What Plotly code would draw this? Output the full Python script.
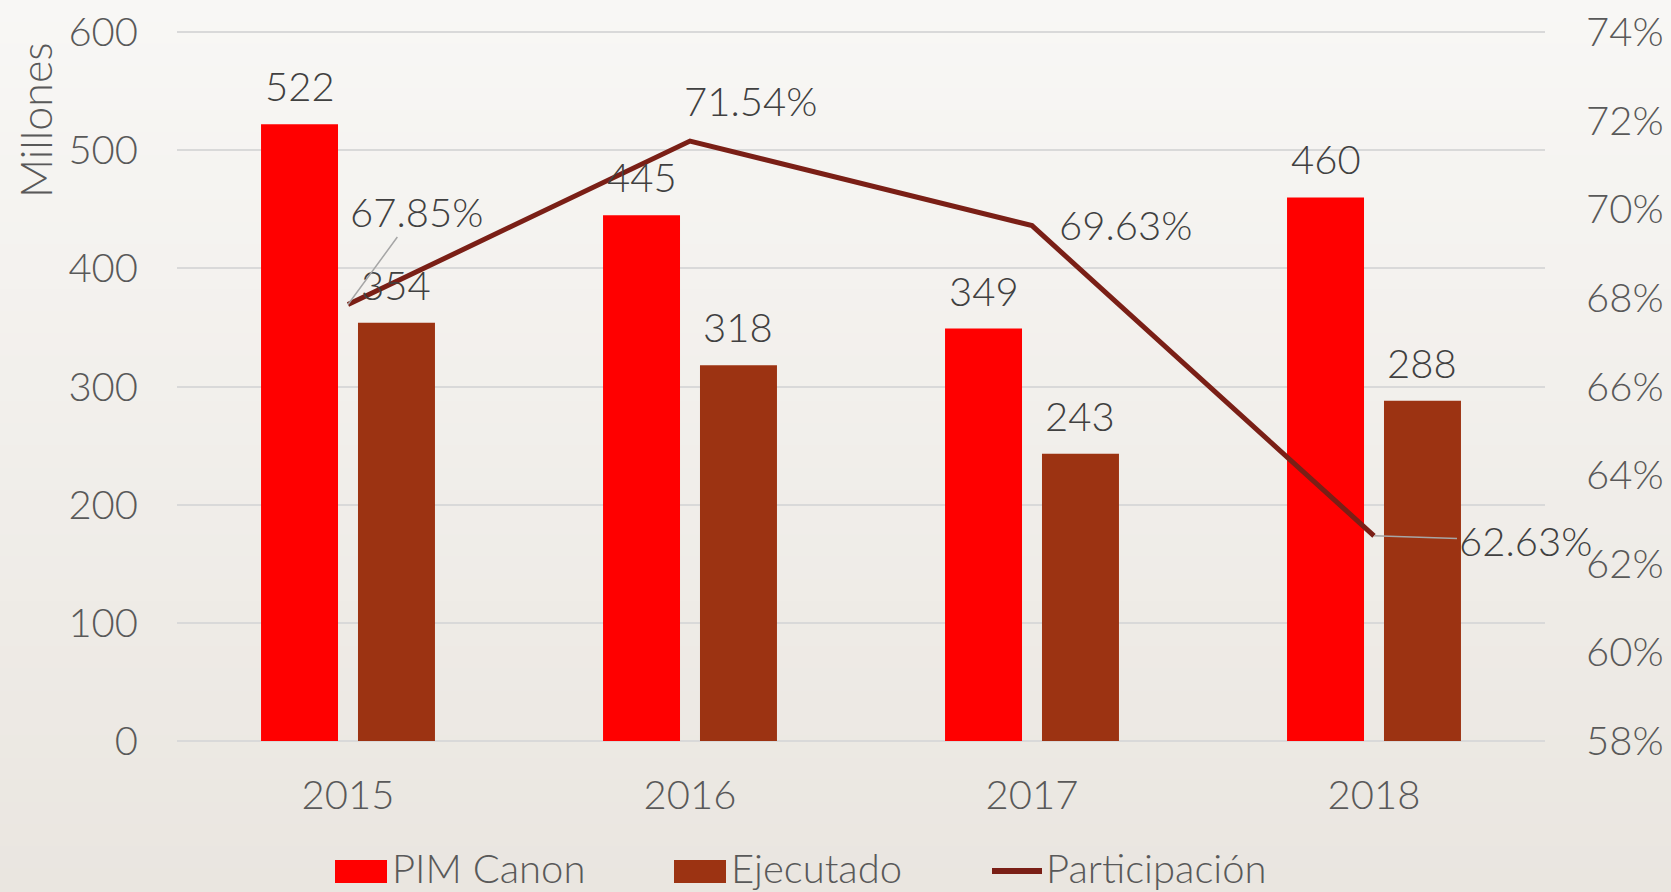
import plotly.graph_objects as go

years = ["2015", "2016", "2017", "2018"]
pim_canon = [522, 445, 349, 460]
ejecutado = [354, 318, 243, 288]
participacion = [0.6785, 0.7154, 0.6963, 0.6263]
part_labels = ["67.85%", "71.54%", "69.63%", "62.63%"]
series_names = ["PIM Canon", "Ejecutado", "Participación"]

FONT = "Lato"
WEIGHT = 300
AXIS_GRAY = "#595959"
LABEL_GRAY = "#404040"
RED = "#FF0000"
BROWN = "#9C3312"
LINE = "#7A1F16"

W, H = 1671, 892
ML, MR, MT, MB = 177, 126, 30, 151
PW, PH = W - ML - MR, H - MT - MB
Y1_MAX = 601.7
Y2_MIN, Y2_SPAN = 0.58, 0.16
BARGAP, GROUPGAP = 0.433, 0.206


def px_x(x):
    return (x - ML) / PW


def px_y(y):
    return (H - MB - y) / PH


def f(size, color):
    return dict(family=FONT, size=size, color=color, weight=WEIGHT)


fig = go.Figure()
fig.add_trace(go.Bar(name=series_names[0], x=years, y=pim_canon, marker=dict(color=RED, line=dict(width=0))))
fig.add_trace(go.Bar(name=series_names[1], x=years, y=ejecutado, marker=dict(color=BROWN, line=dict(width=0))))
fig.add_trace(go.Scatter(name=series_names[2], x=years, y=participacion, yaxis="y2",
                         mode="lines", line=dict(color=LINE, width=5)))

# background gradient
shapes = []
n = 40
top = (248, 247, 245)
bot = (234, 230, 224)
for i in range(n):
    t = i / (n - 1)
    c = tuple(round(top[k] + (bot[k] - top[k]) * t) for k in range(3))
    shapes.append(dict(type="rect", xref="paper", yref="paper",
                       x0=px_x(-5), x1=px_x(W + 5),
                       y0=px_y((i + 1) * H / n + 1), y1=px_y(i * H / n - 1),
                       fillcolor="rgb(%d,%d,%d)" % c, line=dict(width=0), layer="below"))

ann = []
lab_font = f(40, LABEL_GRAY)
slot = PW / len(years) * (1 - BARGAP) / 2
for i, yr in enumerate(years):
    ann.append(dict(x=i, y=pim_canon[i], xref="x", yref="y", text=str(pim_canon[i]), showarrow=False,
                    yanchor="bottom", xshift=-slot / 2, yshift=12, font=lab_font))
    ann.append(dict(x=i, y=ejecutado[i], xref="x", yref="y", text=str(ejecutado[i]), showarrow=False,
                    yanchor="bottom", xshift=slot / 2, yshift=12, font=lab_font))

ann.append(dict(x=0, y=participacion[0], xref="x", yref="y2", text=part_labels[0],
                showarrow=True, arrowhead=0, arrowwidth=1.5, arrowcolor="#A6A6A6",
                ax=68, ay=-93, font=lab_font))
ann.append(dict(x=1, y=participacion[1], xref="x", yref="y2", text=part_labels[1],
                showarrow=False, xshift=60, yshift=40, font=lab_font))
ann.append(dict(x=2, y=participacion[2], xref="x", yref="y2", text=part_labels[2],
                showarrow=False, xshift=93, yshift=1, font=lab_font))
ann.append(dict(x=3, y=participacion[3], xref="x", yref="y2", text=part_labels[3],
                showarrow=True, arrowhead=0, arrowwidth=1.5, arrowcolor="#A6A6A6",
                ax=151, ay=5, font=lab_font))
ann.append(dict(x=px_x(35), y=px_y(120), xref="paper", yref="paper", xanchor="center", yanchor="middle",
                text="Millones", textangle=-90, showarrow=False, font=f(43, AXIS_GRAY)))

# custom legend
leg_font = f(40, AXIS_GRAY)
leg_y = 871
shapes.append(dict(type="rect", xref="paper", yref="paper", x0=px_x(335), x1=px_x(387),
                   y0=px_y(883), y1=px_y(860), fillcolor=RED, line=dict(width=0)))
shapes.append(dict(type="rect", xref="paper", yref="paper", x0=px_x(674), x1=px_x(726),
                   y0=px_y(883), y1=px_y(860), fillcolor=BROWN, line=dict(width=0)))
shapes.append(dict(type="line", xref="paper", yref="paper", x0=px_x(992), x1=px_x(1042),
                   y0=px_y(leg_y), y1=px_y(leg_y), line=dict(color=LINE, width=6)))
for name, lx in zip(series_names, [390, 729, 1044]):
    ann.append(dict(x=px_x(lx), y=px_y(868), xref="paper", yref="paper", text=name,
                    showarrow=False, xanchor="left", yanchor="middle", font=leg_font))

fig.update_layout(
    width=W, height=H,
    margin=dict(l=ML, r=MR, t=MT, b=MB, autoexpand=False),
    paper_bgcolor="#F2F0EC", plot_bgcolor="rgba(0,0,0,0)",
    barmode="group", bargap=BARGAP, bargroupgap=GROUPGAP,
    font=f(40, AXIS_GRAY),
    shapes=shapes, annotations=ann,
    showlegend=False,
    xaxis=dict(type="category", range=[-0.5, 3.5], showgrid=False, showline=False, ticks="",
               automargin=False, tickfont=f(40, AXIS_GRAY), ticklabelstandoff=27),
    yaxis=dict(range=[0, Y1_MAX], tickvals=[0, 100, 200, 300, 400, 500, 600],
               showgrid=True, gridcolor="#D9D9D9", gridwidth=1.5,
               zeroline=True, zerolinecolor="#D9D9D9", zerolinewidth=1.5, showline=False,
               automargin=False, tickfont=f(40, AXIS_GRAY), ticklabelstandoff=38),
    yaxis2=dict(range=[Y2_MIN, Y2_MIN + Y2_SPAN * Y1_MAX / 600], dtick=0.02, tick0=0.58, tickformat=".0%",
                overlaying="y", side="right", showgrid=False, zeroline=False, showline=False,
                automargin=False, tickfont=f(40, AXIS_GRAY), ticklabelstandoff=40),
)

fig.write_html("out.html", config={"displayModeBar": False},
               post_script="document.body.style.margin='0';")
